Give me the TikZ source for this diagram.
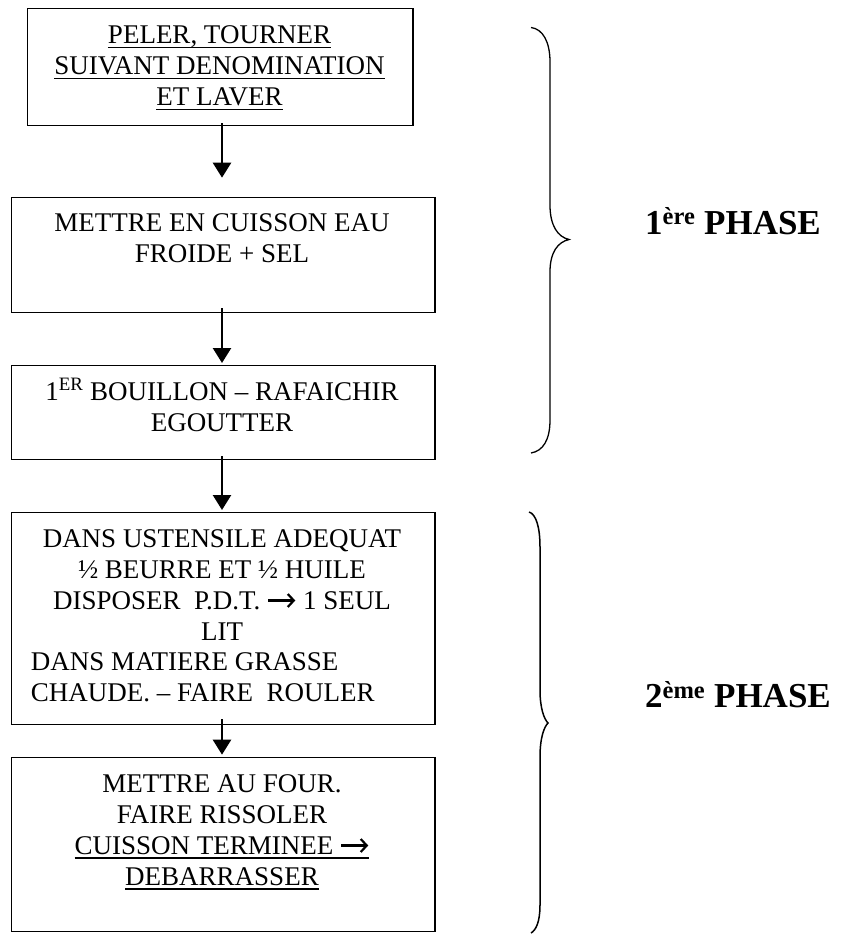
\documentclass[tikz,border=0pt]{standalone}
\usepackage{fontspec}
\setmainfont{Liberation Serif}
\newcommand\myul[1]{\leavevmode\setbox0\hbox{#1}\rlap{\vrule height -3.4pt depth 4.6pt width \wd0}\box0}
\usetikzlibrary{arrows.meta}
\newcommand\bigarr{\tikz[baseline=0pt,x=1pt,y=1pt]\draw[line width=2.2pt,-{Straight Barb[length=6pt,width=13pt]}] (0,8.5) -- (27,8.5);}
\begin{document}
\begin{tikzpicture}[x=1pt,y=-1pt,
  stepbox/.style={draw,line width=1.3pt,inner sep=0pt,anchor=north west},
  boxtxt/.style={inner sep=0pt,anchor=base,font=\fontsize{27}{31}\selectfont},
  lefttxt/.style={inner sep=0pt,anchor=base west,font=\fontsize{27}{31}\selectfont},
  flow/.style={line width=2.5pt,-{Triangle[width=18pt,length=15pt]}},
  phase/.style={inner sep=0pt,anchor=base west,font=\fontsize{35}{40}\selectfont\bfseries},
  bracel/.style={line width=1.3pt}]
\useasboundingbox (0,0) rectangle (841,934);
% boxes
\node[stepbox,minimum width=385.6pt,minimum height=117pt] (b1) at (26.7,7.7) {};
\node[stepbox,minimum width=423.6pt,minimum height=115.3pt] (b2) at (10.7,196.7) {};
\node[stepbox,minimum width=423.6pt,minimum height=94pt] (b3) at (10.7,365) {};
\node[stepbox,minimum width=423.6pt,minimum height=212pt] (b4) at (10.7,512) {};
\node[stepbox,minimum width=423.6pt,minimum height=174pt] (b5) at (10.7,756.7) {};
% texts
\node[boxtxt] (t1) at (219.5,43.3) {\renewcommand\arraystretch{1}\begin{tabular}[t]{@{}c@{}}\myul{PELER, TOURNER}\\\myul{SUIVANT DENOMINATION}\\\myul{ET LAVER}\end{tabular}};
\node[boxtxt] (t2) at (222,231.7) {\renewcommand\arraystretch{1}\begin{tabular}[t]{@{}c@{}}METTRE EN CUISSON EAU\\FROIDE + SEL\end{tabular}};
\node[boxtxt] (t3) at (222,400) {\renewcommand\arraystretch{1}\begin{tabular}[t]{@{}c@{}}1\textsuperscript{ER} BOUILLON – RAFAICHIR\\EGOUTTER\end{tabular}};
\node[boxtxt] (t4) at (222,547) {\renewcommand\arraystretch{1}\begin{tabular}[t]{@{}c@{}}DANS USTENSILE ADEQUAT\\½ BEURRE ET ½ HUILE\\DISPOSER\ \ P.D.T. \bigarr{} 1 SEUL\\LIT\end{tabular}};
\node[lefttxt] (t4b) at (30.7,670) {\renewcommand\arraystretch{1}\begin{tabular}[t]{@{}l@{}}DANS MATIERE GRASSE\\CHAUDE. – FAIRE\ \ ROULER\end{tabular}};
\node[boxtxt] (t5) at (222,792) {\renewcommand\arraystretch{1}\begin{tabular}[t]{@{}c@{}}METTRE AU FOUR.\\FAIRE RISSOLER\\\myul{CUISSON TERMINEE \bigarr}\\\myul{DEBARRASSER}\end{tabular}};
% connectors
\draw[flow,shorten <=-3pt,shorten >=19pt] (b1.south -| 222,0) -- (b2.north -| 222,0);
\draw[flow,shorten <=-5pt,shorten >=2pt] (b2.south -| 222,0) -- (b3.north -| 222,0);
\draw[flow,shorten <=-4pt,shorten >=2pt] (b3.south -| 222,0) -- (b4.north -| 222,0);
\draw[flow,shorten <=-6pt,shorten >=2pt] (b4.south -| 222,0) -- (b5.north -| 222,0);
% braces
\draw[bracel] (531,27.5) .. controls (543,29) and (550,42) .. (550,62) -- (550,205)
  .. controls (550,226) and (558,237) .. (569,239.5)
  .. controls (558,242) and (550,252) .. (550,272) -- (550,420)
  .. controls (550,440) and (543,451) .. (531,453);
\draw[bracel,line width=1.5pt] (529,512) .. controls (536,514) and (540,527) .. (540,547) -- (540,690)
  .. controls (540,708) and (544,719) .. (548,723)
  .. controls (544,727) and (540,738) .. (540,757) -- (540,905)
  .. controls (540,922) and (536,930) .. (531,933);
% phase labels
\node[phase] (p1) at (645,234) {1\textsuperscript{ère} PHASE};
\node[phase] (p2) at (645,707.5) {2\textsuperscript{ème} PHASE};
\end{tikzpicture}
\end{document}
